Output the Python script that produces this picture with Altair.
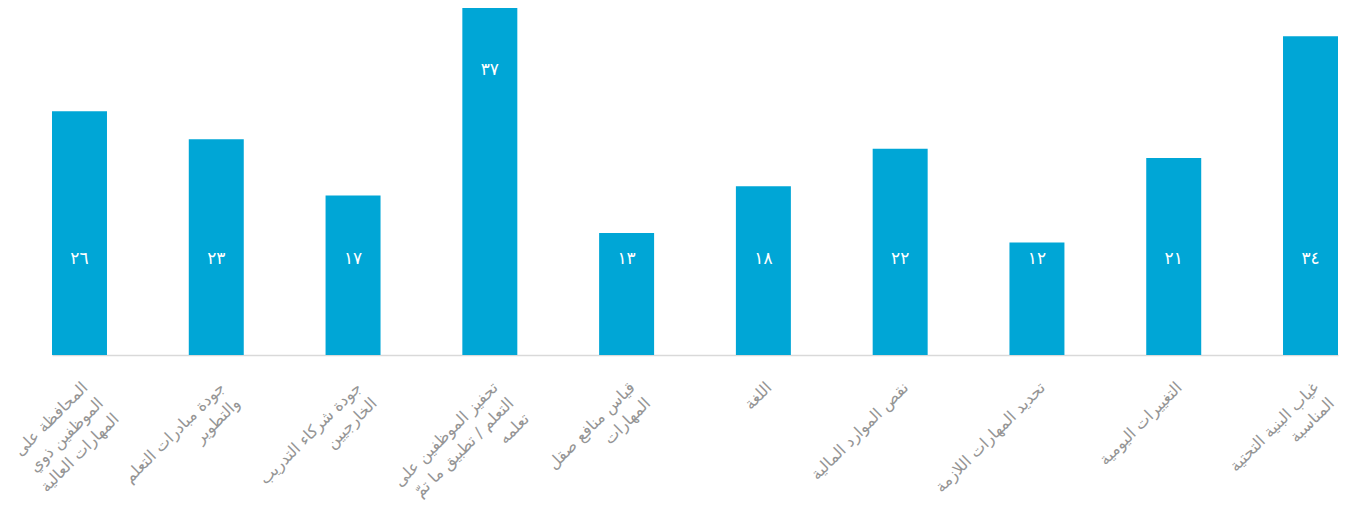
import altair as alt
import pandas as pd

categories = [
    "المحافظة على\nالموظفين ذوي\nالمهارات العالية",
    "جودة مبادرات التعلم\nوالتطوير",
    "جودة شركاء التدريب\nالخارجيين",
    "تحفيز الموظفين على\nالتعلم / تطبيق ما تمّ\nتعلمه",
    "قياس منافع صقل\nالمهارات",
    "اللغة",
    "نقص الموارد المالية",
    "تحديد المهارات اللازمة",
    "التغييرات اليومية",
    "غياب البنية التحتية\nالمناسبة",
]
values = [26, 23, 17, 37, 13, 18, 22, 12, 21, 34]

arabic_digits = str.maketrans("0123456789", "٠١٢٣٤٥٦٧٨٩")
df = pd.DataFrame({
    "cat": categories,
    "value": values,
    "label": [str(v).translate(arabic_digits) for v in values],
})

x = alt.X("cat:N", sort=categories,
          scale=alt.Scale(paddingInner=0.598, paddingOuter=0),
          axis=alt.Axis(title=None, labelAngle=-45, labelAlign="right",
                        labelBaseline="top", labelPadding=24,
                        labelExpr="split(datum.label, '\\n')",
                        labelFont="DejaVu Sans", labelFontSize=16,
                        labelColor="#959595", labelLineHeight=22,
                        ticks=False, domainColor="#d9d9d9", domainWidth=1.5,
                        labelLimit=400))
y = alt.Y("value:Q", scale=alt.Scale(domain=[0, 37], nice=False), axis=None)

bars = alt.Chart(df).mark_bar(color="#00A6D6").encode(x=x, y=y)

text = alt.Chart(df).transform_calculate(
    ly="datum.value > 35 ? datum.value - 6.6 : 10.2"
).mark_text(color="white", fontSize=17, font="DejaVu Sans", fontWeight="normal",
            baseline="middle").encode(
    x=alt.X("cat:N", sort=categories), y=alt.Y("ly:Q"), text="label:N"
)

chart = alt.layer(bars, text).properties(
    width=1286, height=347,
    background="white",
    padding={"left": 44, "top": 0, "right": 6, "bottom": 150},
    autosize=alt.AutoSizeParams(type="none"),
).configure_view(strokeWidth=0)

chart.save("out.html", embed_options={"renderer": "svg", "actions": False})
